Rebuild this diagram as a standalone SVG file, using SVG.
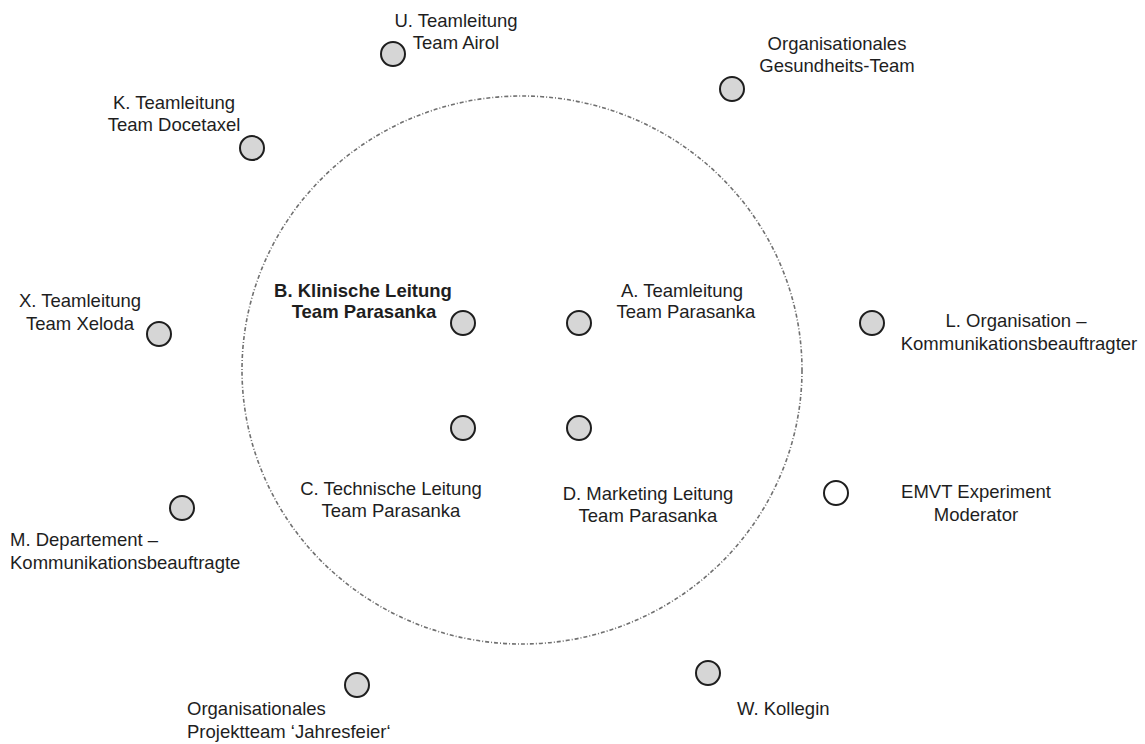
<svg xmlns="http://www.w3.org/2000/svg" width="1145" height="744" viewBox="0 0 1145 744">
  <style>
    .lbl { font-family: "Liberation Sans", Arial, sans-serif; font-size: 18.5px; fill: #1e1e1e; text-anchor: middle; }
    .left { text-anchor: start; }
    .bold { font-weight: bold; }
    .dot { fill: #d6d6d6; stroke: #1e1e1e; stroke-width: 2; }
    .open { fill: #ffffff; stroke: #1e1e1e; stroke-width: 2; }
    .ring { fill: none; stroke: #707070; stroke-width: 1.6; stroke-dasharray: 4 2 1 2; }
  </style>

  <rect width="1145" height="744" fill="#ffffff"/>

  <!-- inner circle of the core team -->
  <g id="core-boundary">
    <ellipse class="ring" cx="522" cy="370" rx="280" ry="274"/>
  </g>

  <g id="node-U">
    <circle class="dot" cx="393" cy="54" r="12"/>
    <text class="lbl" x="456" y="27">U. Teamleitung</text>
    <text class="lbl" x="456" y="49">Team Airol</text>
  </g>

  <g id="node-K">
    <circle class="dot" cx="252" cy="148" r="12"/>
    <text class="lbl" x="174" y="109">K. Teamleitung</text>
    <text class="lbl" x="174" y="131">Team Docetaxel</text>
  </g>

  <g id="node-gesundheit">
    <circle class="dot" cx="732" cy="89" r="12"/>
    <text class="lbl" x="837" y="50">Organisationales</text>
    <text class="lbl" x="837" y="72">Gesundheits-Team</text>
  </g>

  <g id="node-X">
    <circle class="dot" cx="159" cy="334" r="12"/>
    <text class="lbl" x="80" y="307">X. Teamleitung</text>
    <text class="lbl" x="80" y="330">Team Xeloda</text>
  </g>

  <g id="node-B">
    <circle class="dot" cx="463" cy="323" r="12"/>
    <text class="lbl bold" x="363" y="297">B. Klinische Leitung</text>
    <text class="lbl bold" x="364" y="318">Team Parasanka</text>
  </g>

  <g id="node-A">
    <circle class="dot" cx="579" cy="323" r="12"/>
    <text class="lbl" x="682" y="297">A. Teamleitung</text>
    <text class="lbl" x="686" y="318">Team Parasanka</text>
  </g>

  <g id="node-L">
    <circle class="dot" cx="872" cy="323" r="12"/>
    <text class="lbl" x="1016" y="327">L. Organisation –</text>
    <text class="lbl" x="1019" y="350">Kommunikationsbeauftragter</text>
  </g>

  <g id="node-C">
    <circle class="dot" cx="463" cy="428" r="12"/>
    <text class="lbl" x="391" y="495">C. Technische Leitung</text>
    <text class="lbl" x="391" y="517">Team Parasanka</text>
  </g>

  <g id="node-D">
    <circle class="dot" cx="579" cy="428" r="12"/>
    <text class="lbl" x="648" y="500">D. Marketing Leitung</text>
    <text class="lbl" x="648" y="522">Team Parasanka</text>
  </g>

  <g id="node-EMVT">
    <circle class="open" cx="836" cy="493" r="12"/>
    <text class="lbl" x="976" y="498">EMVT Experiment</text>
    <text class="lbl" x="976" y="521">Moderator</text>
  </g>

  <g id="node-M">
    <circle class="dot" cx="182" cy="508" r="12"/>
    <text class="lbl left" x="10" y="546">M. Departement –</text>
    <text class="lbl left" x="10" y="569">Kommunikationsbeauftragte</text>
  </g>

  <g id="node-projektteam">
    <circle class="dot" cx="357" cy="685" r="12"/>
    <text class="lbl left" x="187" y="715">Organisationales</text>
    <text class="lbl left" x="187" y="738">Projektteam ‘Jahresfeier‘</text>
  </g>

  <g id="node-W">
    <circle class="dot" cx="708" cy="673" r="12"/>
    <text class="lbl left" x="737" y="715">W. Kollegin</text>
  </g>
</svg>
